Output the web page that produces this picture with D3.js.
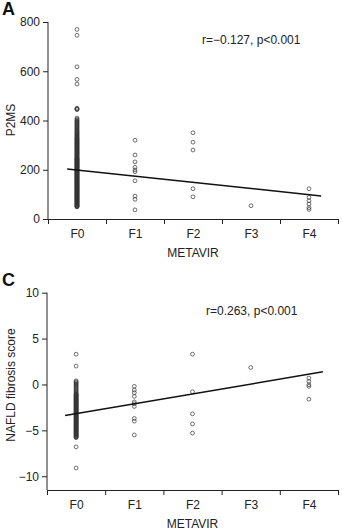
<!DOCTYPE html>
<html>
<head>
<meta charset="utf-8">
<script src="https://cdn.jsdelivr.net/npm/d3@7"></script>
<style>
  body { margin: 0; background: #fff; }
  svg { display: block; }
  text { font-family: "Liberation Sans", Arial, sans-serif; }
</style>
</head>
<body>
<div class="chart"></div>
<script>
// METAVIR stages, shared by both panels
var stages = ["F0", "F1", "F2", "F3", "F4"];

// Panel A: P2MS per stage
var p2msF0 = [770, 746, 618, 567, 548, 450, 448, 446, 444,
    410, 406, 402, 399, 396, 393, 390, 387, 384, 381, 378, 375, 372, 369, 366, 363, 360, 357,
    355, 352, 350, 347, 345, 342, 340, 337, 335, 332, 330, 328, 326, 324, 322, 320, 318, 316,
    314, 312, 310, 308, 306, 304, 302, 300, 298, 296, 294, 292, 290, 288, 286, 284, 282, 280,
    278, 276, 274, 272, 270, 268, 266, 264, 262, 260, 258, 256, 254, 252, 250, 248, 247, 245,
    244, 242, 241, 239, 238, 236, 235, 233, 232, 230, 229, 227, 226, 224, 223, 221, 220, 218,
    217, 215, 214, 212, 211, 209, 208, 206, 205, 203, 202, 200, 199, 197, 196, 194, 193, 191,
    190, 188, 187, 185, 184, 182, 181, 179, 178, 176, 175, 173, 172, 170, 169, 167, 166, 164,
    163, 161, 160, 158, 157, 155, 154, 152, 151, 149, 148, 146, 145, 143, 142, 140, 139, 137,
    136, 134, 133, 131, 130, 128, 127, 125, 124, 122, 121, 119, 118, 116, 115, 113, 112, 110,
    109, 107, 106, 104, 103, 101, 100, 98, 97, 95, 94, 92, 91, 89, 88, 86, 85, 83, 82,
    80, 79, 77, 76, 74, 73, 71, 70, 68, 67, 65, 64, 62, 61, 59, 58, 56, 55, 53, 52, 50, 49];
var p2msF1 = [320, 260, 232, 210, 199, 192, 155, 93, 80, 37];
var p2msF2 = [350, 312, 280, 123, 90];
var p2msF3 = [54];
var p2msF4 = [123, 88, 74, 61, 46, 39];
var p2msFit = {intercept: 199, slope: -25, from: -0.17, to: 4.21};
var p2msTicks = [0, 200, 400, 600, 800];

// Panel C: NAFLD fibrosis score per stage
var nfsF0 = [3.3, 2.0, -6.8, -9.1,
    0.4, 0.3, 0.2, 0.1, 0.0, -0.1, -0.2, -0.3, -0.4, -0.5, -0.6, -0.7, -0.8, -0.9, -1.0,
    -1.05, -1.1, -1.15, -1.2, -1.25, -1.3, -1.35, -1.4, -1.45, -1.5, -1.55, -1.6, -1.65,
    -1.7, -1.75, -1.8, -1.85, -1.9, -1.95, -2.0, -2.05, -2.1, -2.15, -2.2, -2.25, -2.3,
    -2.35, -2.4, -2.45, -2.5, -2.55, -2.6, -2.65, -2.7, -2.75, -2.8, -2.85, -2.9, -2.95,
    -3.0, -3.05, -3.1, -3.15, -3.2, -3.25, -3.3, -3.35, -3.4, -3.45, -3.5, -3.55, -3.6,
    -3.65, -3.7, -3.75, -3.8, -3.85, -3.9, -3.95, -4.0, -4.05, -4.1, -4.15, -4.2, -4.25,
    -4.3, -4.35, -4.4, -4.45, -4.5, -4.55, -4.6, -4.65, -4.7, -4.75, -4.8, -4.85, -4.9,
    -4.95, -5.0, -5.05, -5.1, -5.15, -5.2, -5.25, -5.3, -5.35, -5.4, -5.45, -5.5, -5.55,
    -5.6, -5.65, -5.7, -5.75, -5.8];
var nfsF1 = [-0.2, -0.6, -0.9, -1.3, -1.9, -2.1, -2.4, -3.7, -4.0, -5.5];
var nfsF2 = [3.3, -0.8, -3.2, -4.3, -5.3];
var nfsF3 = [1.85];
var nfsF4 = [0.7, 0.33, -0.03, -0.2, -1.6];
var nfsFit = {intercept: -3.18, slope: 1.075, from: -0.19, to: 4.24};
var nfsTicks = [-10, -5, 0, 5, 10];

var W = 342, H = 532;
var FONT = "Liberation Sans, Arial, sans-serif";
var svg = d3.select(".chart").append("svg")
    .attr("width", W)
    .attr("height", H);

function panel(opt) {
    var g = svg.append("g");

    var x = d3.scaleLinear()
        .domain([-0.5, stages.length - 0.5])
        .range([opt.left, opt.right]);

    var y = d3.scaleLinear()
        .domain(opt.yDomain)
        .range([opt.bottom, opt.top]);

    // y axis: line starts at the top tick, runs down to the x axis
    var yAxis = g.append("g")
        .attr("transform", "translate(" + opt.left + ",0)")
        .call(d3.axisLeft(y).tickValues(opt.yTicks).tickSize(5).tickPadding(3)
            .tickFormat(function (d) { return d < 0 ? "\u2212" + Math.abs(d) : d; }));
    yAxis.select(".domain").attr("d", "M0," + y(opt.yTicks[opt.yTicks.length - 1]) + "V" + opt.bottom);

    // x axis: ticks on stage boundaries, labels at stage centres
    var bounds = d3.range(stages.length + 1).map(function (i) { return i - 0.5; });
    g.append("g")
        .attr("transform", "translate(0," + opt.bottom + ")")
        .call(d3.axisBottom(x).tickValues(bounds).tickSize(5).tickFormat(""));
    g.append("g")
        .attr("transform", "translate(0," + opt.bottom + ")")
        .call(d3.axisBottom(x).tickValues(d3.range(stages.length)).tickSize(0).tickPadding(10)
            .tickFormat(function (i) { return stages[i]; }))
        .select(".domain").remove();

    g.selectAll(".domain, .tick line").attr("stroke", "#222").attr("stroke-width", 1);
    g.selectAll(".tick text").attr("font-size", 12).attr("fill", "#222")
        .attr("font-family", FONT);

    // points
    opt.series.forEach(function (vals, i) {
        g.append("g").selectAll("circle")
            .data(vals)
            .enter().append("circle")
            .attr("cx", x(i))
            .attr("cy", function (d) { return y(d); })
            .attr("r", 1.9)
            .attr("fill", "none")
            .attr("stroke", "#333")
            .attr("stroke-width", 0.7);
    });

    // regression line
    var f = opt.fit;
    g.append("line")
        .attr("x1", x(f.from)).attr("y1", y(f.intercept + f.slope * f.from))
        .attr("x2", x(f.to)).attr("y2", y(f.intercept + f.slope * f.to))
        .attr("stroke", "#111")
        .attr("stroke-width", 1.5);

    // labels
    g.append("text")
        .attr("x", (opt.left + opt.right) / 2)
        .attr("y", opt.bottom + 37.5)
        .attr("text-anchor", "middle")
        .attr("font-family", FONT)
        .attr("font-size", 12).attr("fill", "#222")
        .text("METAVIR");

    g.append("text")
        .attr("transform", "translate(15," + opt.yLabelY + ") rotate(-90)")
        .attr("text-anchor", "middle")
        .attr("font-family", FONT)
        .attr("font-size", 12).attr("fill", "#222")
        .text(opt.yLabel);

    g.append("text")
        .attr("x", opt.statX)
        .attr("y", opt.top + 22)
        .attr("font-family", FONT)
        .attr("font-size", 12).attr("fill", "#222")
        .text(opt.stat);

    g.append("text")
        .attr("x", 2)
        .attr("y", opt.top - 7)
        .attr("font-family", "DejaVu Sans Condensed, DejaVu Sans, sans-serif")
        .attr("font-weight", "bold")
        .attr("font-size", 18)
        .attr("fill", "#111")
        .text(opt.letter);
}

panel({
    letter: "A",
    left: 48, right: 338, top: 22, bottom: 219,
    yDomain: [0, 800], yTicks: p2msTicks,
    series: [p2msF0, p2msF1, p2msF2, p2msF3, p2msF4],
    fit: p2msFit,
    yLabel: "P2MS", yLabelY: 120,
    stat: "r=\u22120.127, p<0.001", statX: 202
});

panel({
    letter: "C",
    left: 47, right: 338, top: 292.7, bottom: 490,
    yDomain: [-11.5, 10], yTicks: nfsTicks,
    series: [nfsF0, nfsF1, nfsF2, nfsF3, nfsF4],
    fit: nfsFit,
    yLabel: "NAFLD fibrosis score", yLabelY: 385,
    stat: "r=0.263, p<0.001", statX: 206
});
</script>
</body>
</html>
